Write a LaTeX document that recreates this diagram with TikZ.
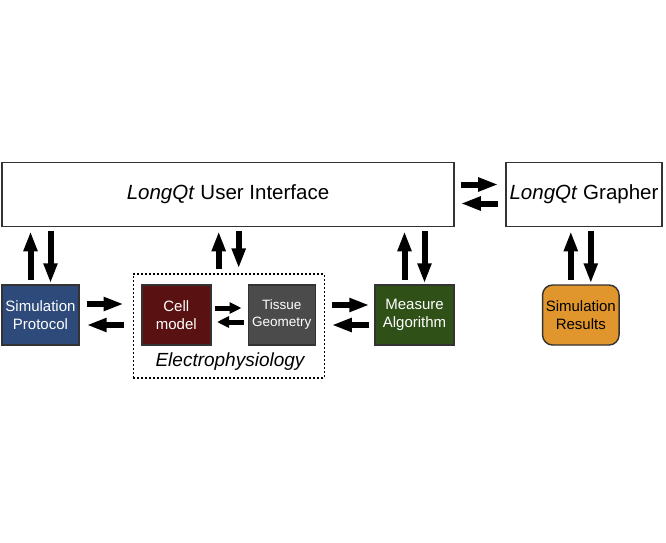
\documentclass[tikz,border=0pt]{standalone}
\usepackage{fontspec}
\setmainfont{Liberation Sans}
\usetikzlibrary{arrows.meta,calc}
\definecolor{protblue}{HTML}{2D4A7A}
\definecolor{cellred}{HTML}{5A1111}
\definecolor{tissuegray}{HTML}{4B4B4B}
\definecolor{measuregreen}{HTML}{2F5118}
\definecolor{resultorange}{HTML}{E0962C}
\tikzset{
  bigbox/.style={draw=black!80, line width=1.6pt, minimum height=64pt, inner sep=0pt,
    font=\fontsize{20.5}{24}\selectfont},
  unitbox/.style={draw=black!80, line width=1.4pt, minimum width=#1, minimum height=60pt,
    inner sep=0pt, align=center, text=white, font=\fontsize{15}{17.7}\selectfont},
  fatarrow/.style={line width=6pt, -{Triangle[length=20pt,width=13pt]}},
  thinarrow/.style={line width=5pt, -{Triangle[length=12pt,width=11pt]}},
}
\begin{document}
\begin{tikzpicture}[x=1pt,y=1pt]
\useasboundingbox (0,0) rectangle (666,542);
\node[bigbox, minimum width=452pt] (ui) at (228,347.5) {\textit{LongQt} User Interface};
\node[bigbox, minimum width=156pt] (grapher) at (584,347.5) {\textit{LongQt} Grapher};
\node[unitbox=77pt, fill=protblue] (prot) at (40.5,227) {Simulation\\Protocol};
\node[draw, line width=1.2pt, dash pattern=on 2pt off 2pt, minimum width=191pt, minimum height=104pt] (ephys) at (228.7,216) {};
\node[unitbox=69pt, fill=cellred] (cell) at (176.3,227) {Cell\\model};
\node[unitbox=67pt, fill=tissuegray, font=\fontsize{13.5}{17}\selectfont] (tissue) at (281.7,227) {Tissue\\Geometry};
\node[font=\fontsize{19}{22}\selectfont\itshape] (ephyslabel) at (230,180) {Electrophysiology};
\node[unitbox=79pt, fill=measuregreen] (measure) at (414.5,227) {Measure\\Algorithm};
\node[unitbox=76.5pt, fill=resultorange, text=black, rounded corners=10pt] (results) at (580.8,227) {Simulation\\Results};
\draw[fatarrow] ($(ui.east)+(6,10)$) -- ($(grapher.west)+(-7,10)$);
\draw[fatarrow] ($(grapher.west)+(-7,-9)$) -- ($(ui.east)+(6,-9)$);
\foreach \lower/\gap in {prot/1, ephys/5, measure/1, results/1} {
  \draw[fatarrow] ($(\lower.north)+(-10,4)$) -- ($(\lower.north |- ui.south)+(-10,-4)$);
  \draw[fatarrow] ($(\lower.north |- ui.south)+(10,-4)$) -- ($(\lower.north)+(10,\gap)$);
}
\draw[fatarrow] ($(prot.east)+(7,11)$) -- ($(prot.east -| ephys.west)+(-9,11)$);
\draw[fatarrow] ($(prot.east -| ephys.west)+(-9,-10)$) -- ($(prot.east)+(7,-10)$);
\draw[thinarrow] ($(cell.east)+(3,7)$) -- ($(tissue.west)+(-6,7)$);
\draw[thinarrow] ($(tissue.west)+(-4,-7)$) -- ($(cell.east)+(5.5,-7)$);
\draw[fatarrow] ($(measure.west -| ephys.east)+(7,10)$) -- ($(measure.west)+(-5,10)$);
\draw[fatarrow] ($(measure.west)+(-5,-10)$) -- ($(measure.west -| ephys.east)+(7,-10)$);
\end{tikzpicture}
\end{document}
